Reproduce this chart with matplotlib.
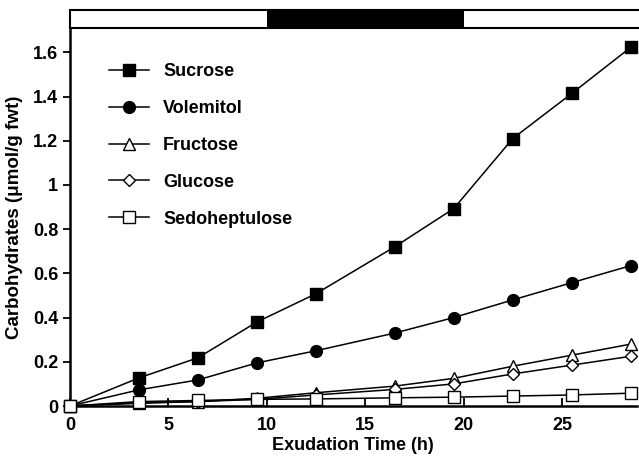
import numpy as np
import matplotlib
matplotlib.use("Agg")
import matplotlib.pyplot as plt

plt.rcParams['font.family'] = ['Liberation Sans', 'DejaVu Sans']
plt.rcParams['font.weight'] = 'bold'

# exudation time (h)
hours = [0, 3.5, 6.5, 9.5, 12.5, 16.5, 19.5, 22.5, 25.5, 28.5]

sucrose = [0, 0.127, 0.218, 0.38, 0.508, 0.72, 0.893, 1.21, 1.414, 1.623]
volemitol = [0, 0.073, 0.118, 0.195, 0.25, 0.33, 0.40, 0.48, 0.558, 0.635]
fructose = [0, 0.015, 0.02, 0.035, 0.06, 0.09, 0.125, 0.18, 0.23, 0.28]
glucose = [0, 0.012, 0.02, 0.03, 0.05, 0.075, 0.10, 0.145, 0.185, 0.225]
sedoheptulose = [0, 0.02, 0.025, 0.03, 0.032, 0.037, 0.04, 0.045, 0.05, 0.058]

# light/dark periods shown in the bar on top
periods = [(0, 10, 'white'), (10, 20, 'black'), (20, 30, 'white')]

fig = plt.figure(figsize=(6.39, 4.61), dpi=100)
ax = fig.add_axes([0.1095, 0.1193, 0.887, 0.8200])
bar = fig.add_axes([0.1095, 0.939, 0.8905, 0.039])

fs = 13
lw = 1.1
ax.plot(hours, sucrose, '-s', color='black', mfc='black', ms=8, lw=lw, label='Sucrose', clip_on=False, zorder=5)
ax.plot(hours, volemitol, '-o', color='black', mfc='black', ms=8.5, lw=lw, label='Volemitol', clip_on=False, zorder=5)
ax.plot(hours, fructose, '-^', color='black', mfc='white', ms=8.5, lw=lw, label='Fructose', clip_on=False, zorder=5)
ax.plot(hours, glucose, '-D', color='black', mfc='white', ms=6.5, lw=lw, label='Glucose', clip_on=False, zorder=5)
ax.plot(hours, sedoheptulose, '-s', color='black', mfc='white', ms=8.5, lw=lw, label='Sedoheptulose', clip_on=False, zorder=6)

ax.set_xlim(0, 28.8)
ax.set_ylim(0, 1.71)
ax.set_xticks([0, 5, 10, 15, 20, 25])
ax.set_yticks([0, 0.2, 0.4, 0.6, 0.8, 1.0, 1.2, 1.4, 1.6])
ax.set_yticklabels(['0', '0.2', '0.4', '0.6', '0.8', '1', '1.2', '1.4', '1.6'])
for s in ['top', 'right']:
    ax.spines[s].set_visible(False)
for s in ['left', 'bottom']:
    ax.spines[s].set_linewidth(1.8)
ax.tick_params(axis='x', direction='in', length=6, width=1.3, labelsize=fs, pad=8)
ax.tick_params(axis='y', direction='out', length=5, width=1.3, labelsize=fs)
ax.set_xlabel('Exudation Time (h)', fontsize=fs, fontweight='bold', labelpad=2)
ax.set_ylabel('Carbohydrates (\u03bcmol/g fwt)', fontsize=13.5, fontweight='bold', labelpad=7)

leg = ax.legend(loc='upper left', bbox_to_anchor=(0.04, 0.95), frameon=False, fontsize=fs,
                handlelength=2.2, labelspacing=1.1, handletextpad=0.8)

bar.set_xlim(0, 28.8 * 0.8905 / 0.887)
bar.set_ylim(0, 1)
for start, end, col in periods:
    bar.axvspan(start, end, color=col, lw=0)
bar.set_xticks([])
bar.set_yticks([])
for s in bar.spines.values():
    s.set_linewidth(1.5)
bar.spines['right'].set_visible(False)

fig.savefig('out.png', dpi=100)
